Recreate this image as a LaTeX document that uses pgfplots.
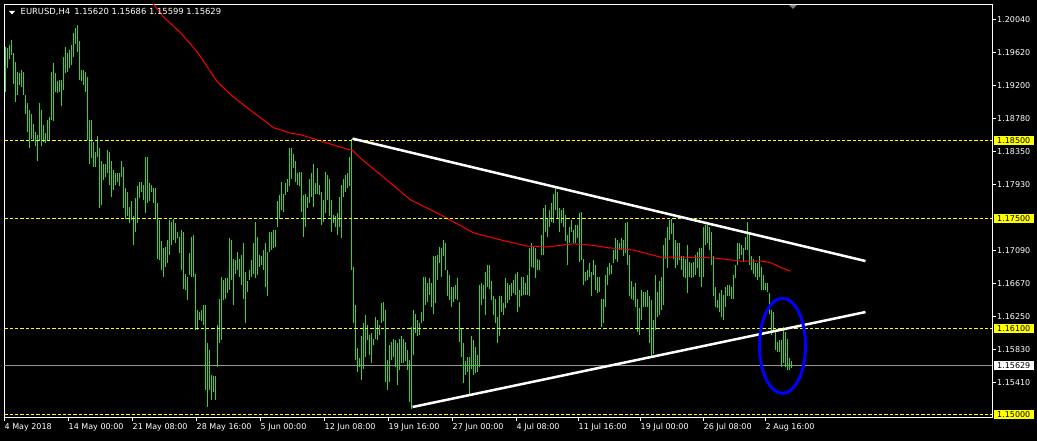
\documentclass[border=0pt]{standalone}
\usepackage{pgfplots}
\pgfplotsset{compat=1.18}
\usepackage{pgfplotstable}
\usepackage{fontspec}
\setmainfont{DejaVu Sans}
\definecolor{barg}{RGB}{40,220,40}
\definecolor{bidgray}{RGB}{150,150,160}
\definecolor{mty}{RGB}{255,255,0}
\newcommand\tf{\fontsize{8}{9}\selectfont}

\pgfplotstableread{
i lo hi
0 1.1912 1.1969
1 1.1942 1.1967
2 1.1954 1.1971
3 1.1959 1.1978
4 1.1922 1.1961
5 1.1899 1.1950
6 1.1908 1.1937
7 1.1920 1.1935
8 1.1918 1.1939
9 1.1908 1.1937
10 1.1884 1.1908
11 1.1861 1.1897
12 1.1840 1.1888
13 1.1852 1.1884
14 1.1850 1.1871
15 1.1842 1.1861
16 1.1823 1.1857
17 1.1850 1.1897
18 1.1842 1.1888
19 1.1848 1.1869
20 1.1846 1.1859
21 1.1850 1.1876
22 1.1850 1.1880
23 1.1876 1.1937
24 1.1874 1.1948
25 1.1912 1.1935
26 1.1910 1.1925
27 1.1912 1.1927
28 1.1893 1.1927
29 1.1914 1.1956
30 1.1935 1.1969
31 1.1937 1.1961
32 1.1942 1.1965
33 1.1946 1.1971
34 1.1956 1.1986
35 1.1973 1.1993
36 1.1963 1.1997
37 1.1927 1.1976
38 1.1925 1.1939
39 1.1920 1.1939
40 1.1912 1.1937
41 1.1850 1.1931
42 1.1820 1.1876
43 1.1827 1.1876
44 1.1816 1.1848
45 1.1816 1.1835
46 1.1829 1.1855
47 1.1763 1.1840
48 1.1767 1.1823
49 1.1799 1.1820
50 1.1803 1.1820
51 1.1808 1.1837
52 1.1793 1.1835
53 1.1778 1.1823
54 1.1787 1.1812
55 1.1793 1.1808
56 1.1797 1.1808
57 1.1791 1.1808
58 1.1803 1.1823
59 1.1763 1.1816
60 1.1750 1.1789
61 1.1753 1.1784
62 1.1744 1.1765
63 1.1748 1.1772
64 1.1716 1.1753
65 1.1733 1.1776
66 1.1744 1.1791
67 1.1776 1.1797
68 1.1784 1.1797
69 1.1774 1.1793
70 1.1757 1.1829
71 1.1770 1.1829
72 1.1772 1.1795
73 1.1784 1.1793
74 1.1770 1.1789
75 1.1750 1.1789
76 1.1699 1.1770
77 1.1697 1.1748
78 1.1685 1.1721
79 1.1676 1.1712
80 1.1689 1.1714
81 1.1693 1.1723
82 1.1704 1.1748
83 1.1716 1.1746
84 1.1723 1.1750
85 1.1719 1.1744
86 1.1725 1.1733
87 1.1706 1.1727
88 1.1685 1.1736
89 1.1661 1.1733
90 1.1659 1.1680
91 1.1646 1.1676
92 1.1678 1.1706
93 1.1676 1.1727
94 1.1676 1.1729
95 1.1608 1.1680
96 1.1608 1.1634
97 1.1621 1.1631
98 1.1619 1.1634
99 1.1614 1.1640
100 1.1532 1.1640
101 1.1510 1.1591
102 1.1532 1.1583
103 1.1519 1.1551
104 1.1529 1.1549
105 1.1519 1.1549
106 1.1561 1.1614
107 1.1591 1.1648
108 1.1595 1.1676
109 1.1646 1.1672
110 1.1648 1.1674
111 1.1655 1.1674
112 1.1659 1.1725
113 1.1672 1.1723
114 1.1640 1.1699
115 1.1680 1.1697
116 1.1685 1.1708
117 1.1676 1.1699
118 1.1665 1.1704
119 1.1648 1.1719
120 1.1617 1.1682
121 1.1657 1.1670
122 1.1672 1.1685
123 1.1676 1.1697
124 1.1680 1.1719
125 1.1674 1.1746
126 1.1678 1.1727
127 1.1689 1.1704
128 1.1691 1.1702
129 1.1685 1.1710
130 1.1663 1.1719
131 1.1651 1.1708
132 1.1708 1.1733
133 1.1710 1.1733
134 1.1712 1.1736
135 1.1714 1.1736
136 1.1740 1.1772
137 1.1750 1.1780
138 1.1761 1.1797
139 1.1759 1.1782
140 1.1780 1.1795
141 1.1784 1.1801
142 1.1791 1.1840
143 1.1801 1.1840
144 1.1814 1.1833
145 1.1797 1.1823
146 1.1793 1.1808
147 1.1791 1.1810
148 1.1759 1.1810
149 1.1727 1.1780
150 1.1740 1.1782
151 1.1763 1.1778
152 1.1770 1.1801
153 1.1778 1.1808
154 1.1765 1.1820
155 1.1782 1.1795
156 1.1782 1.1814
157 1.1780 1.1793
158 1.1742 1.1784
159 1.1746 1.1774
160 1.1757 1.1810
161 1.1774 1.1806
162 1.1753 1.1801
163 1.1733 1.1774
164 1.1744 1.1755
165 1.1740 1.1753
166 1.1729 1.1757
167 1.1740 1.1778
168 1.1725 1.1793
169 1.1778 1.1801
170 1.1784 1.1806
171 1.1789 1.1808
172 1.1791 1.1829
173 1.1685 1.1852
174 1.1617 1.1689
175 1.1570 1.1640
176 1.1555 1.1585
177 1.1561 1.1572
178 1.1544 1.1600
179 1.1559 1.1617
180 1.1574 1.1627
181 1.1595 1.1614
182 1.1576 1.1602
183 1.1566 1.1604
184 1.1589 1.1597
185 1.1597 1.1625
186 1.1595 1.1621
187 1.1602 1.1614
188 1.1617 1.1642
189 1.1619 1.1644
190 1.1542 1.1634
191 1.1532 1.1570
192 1.1542 1.1589
193 1.1570 1.1593
194 1.1574 1.1597
195 1.1561 1.1595
196 1.1538 1.1591
197 1.1557 1.1597
198 1.1566 1.1600
199 1.1566 1.1597
200 1.1568 1.1593
201 1.1557 1.1583
202 1.1517 1.1570
203 1.1508 1.1612
204 1.1576 1.1634
205 1.1604 1.1629
206 1.1600 1.1621
207 1.1602 1.1617
208 1.1617 1.1631
209 1.1619 1.1676
210 1.1640 1.1676
211 1.1644 1.1668
212 1.1653 1.1674
213 1.1638 1.1668
214 1.1629 1.1702
215 1.1642 1.1702
216 1.1672 1.1704
217 1.1693 1.1714
218 1.1676 1.1712
219 1.1702 1.1723
220 1.1685 1.1719
221 1.1651 1.1685
222 1.1646 1.1678
223 1.1638 1.1663
224 1.1644 1.1663
225 1.1648 1.1665
226 1.1646 1.1674
227 1.1593 1.1644
228 1.1574 1.1610
229 1.1540 1.1591
230 1.1551 1.1568
231 1.1555 1.1574
232 1.1527 1.1574
233 1.1559 1.1600
234 1.1551 1.1595
235 1.1553 1.1587
236 1.1555 1.1576
237 1.1561 1.1665
238 1.1640 1.1668
239 1.1648 1.1665
240 1.1627 1.1682
241 1.1663 1.1691
242 1.1661 1.1691
243 1.1646 1.1670
244 1.1627 1.1651
245 1.1617 1.1648
246 1.1591 1.1625
247 1.1600 1.1651
248 1.1631 1.1651
249 1.1627 1.1642
250 1.1636 1.1674
251 1.1642 1.1668
252 1.1646 1.1665
253 1.1651 1.1668
254 1.1655 1.1672
255 1.1653 1.1680
256 1.1631 1.1682
257 1.1638 1.1659
258 1.1651 1.1676
259 1.1653 1.1676
260 1.1653 1.1668
261 1.1653 1.1678
262 1.1651 1.1712
263 1.1689 1.1719
264 1.1687 1.1714
265 1.1674 1.1712
266 1.1685 1.1699
267 1.1685 1.1697
268 1.1704 1.1729
269 1.1704 1.1763
270 1.1733 1.1767
271 1.1727 1.1750
272 1.1740 1.1761
273 1.1746 1.1770
274 1.1744 1.1782
275 1.1761 1.1791
276 1.1750 1.1784
277 1.1733 1.1763
278 1.1744 1.1761
279 1.1740 1.1763
280 1.1721 1.1755
281 1.1691 1.1729
282 1.1719 1.1740
283 1.1733 1.1748
284 1.1719 1.1736
285 1.1719 1.1742
286 1.1725 1.1742
287 1.1695 1.1757
288 1.1697 1.1759
289 1.1665 1.1699
290 1.1670 1.1682
291 1.1672 1.1685
292 1.1676 1.1693
293 1.1651 1.1682
294 1.1678 1.1697
295 1.1659 1.1691
296 1.1655 1.1676
297 1.1657 1.1676
298 1.1612 1.1648
299 1.1617 1.1648
300 1.1638 1.1678
301 1.1665 1.1689
302 1.1678 1.1693
303 1.1680 1.1691
304 1.1693 1.1710
305 1.1699 1.1725
306 1.1695 1.1723
307 1.1710 1.1719
308 1.1710 1.1725
309 1.1702 1.1723
310 1.1706 1.1744
311 1.1691 1.1746
312 1.1651 1.1704
313 1.1648 1.1670
314 1.1646 1.1663
315 1.1638 1.1668
316 1.1606 1.1648
317 1.1602 1.1636
318 1.1621 1.1659
319 1.1638 1.1657
320 1.1638 1.1657
321 1.1638 1.1659
322 1.1591 1.1651
323 1.1574 1.1646
324 1.1578 1.1621
325 1.1608 1.1678
326 1.1625 1.1657
327 1.1627 1.1670
328 1.1634 1.1676
329 1.1640 1.1716
330 1.1699 1.1725
331 1.1687 1.1740
332 1.1723 1.1748
333 1.1731 1.1750
334 1.1699 1.1744
335 1.1687 1.1723
336 1.1691 1.1719
337 1.1697 1.1719
338 1.1685 1.1702
339 1.1676 1.1702
340 1.1674 1.1699
341 1.1655 1.1716
342 1.1676 1.1695
343 1.1674 1.1693
344 1.1676 1.1695
345 1.1678 1.1704
346 1.1687 1.1708
347 1.1676 1.1712
348 1.1663 1.1712
349 1.1676 1.1740
350 1.1716 1.1742
351 1.1719 1.1742
352 1.1710 1.1740
353 1.1691 1.1733
354 1.1651 1.1702
355 1.1638 1.1663
356 1.1636 1.1646
357 1.1631 1.1655
358 1.1625 1.1659
359 1.1621 1.1653
360 1.1638 1.1663
361 1.1651 1.1665
362 1.1651 1.1665
363 1.1648 1.1663
364 1.1648 1.1678
365 1.1674 1.1691
366 1.1691 1.1719
367 1.1699 1.1719
368 1.1704 1.1716
369 1.1695 1.1712
370 1.1710 1.1727
371 1.1710 1.1746
372 1.1691 1.1731
373 1.1685 1.1702
374 1.1680 1.1699
375 1.1676 1.1693
376 1.1672 1.1693
377 1.1676 1.1702
378 1.1659 1.1689
379 1.1659 1.1678
380 1.1659 1.1668
381 1.1657 1.1668
382 1.1629 1.1655
383 1.1602 1.1634
384 1.1608 1.1631
385 1.1583 1.1606
386 1.1580 1.1593
387 1.1580 1.1595
388 1.1561 1.1595
389 1.1566 1.1612
390 1.1561 1.1606
391 1.1557 1.1597
392 1.1557 1.1572
393 1.1560 1.1569
}\bars

\pgfplotstableread{
i p
70 1.2036
79 1.2007
87.5 1.1987
96 1.1962
106 1.1924
114 1.1905
121 1.1891
134 1.1866
142.5 1.1859
147.5 1.1857
157.5 1.1849
169 1.1840
173.5 1.1837
177.5 1.1827
187.5 1.1806
202.5 1.1774
217.5 1.1755
234 1.1732
247.5 1.1723
261 1.1715
271 1.1714
284 1.1718
294 1.1716
301 1.1713
314 1.1710
327.5 1.1701
337.5 1.1701
354 1.1700
367.5 1.1696
377.5 1.1696
382.5 1.1694
387.5 1.1688
392.5 1.1683
}\ma

\begin{document}
\begin{tikzpicture}[x=1pt,y=1pt]
\fill[black] (0,0) rectangle (1037,441);
\useasboundingbox (0,0) rectangle (1037,441);
\begin{axis}[
  at={(4.5pt,23pt)}, anchor=south west,
  scale only axis, width=987.5pt, height=413.5pt,
  xmin=-0.5, xmax=493.25, ymin=1.14960, ymax=1.20229,
  clip mode=individual,
  axis background/.style={fill=black},
  axis line style={white, line width=1pt},
  tick style={white, line width=1pt},
  tick align=outside, major tick length=3.5pt,
  xtick pos=bottom, ytick pos=right,
  xtick={-0.5,31.5,63.5,95.5,127.5,159.5,191.5,223.5,255.5,286.5,317.5,349,380},
  xticklabels={4 May 2018,14 May 00:00,21 May 08:00,28 May 16:00,5 Jun 00:00,12 Jun 08:00,19 Jun 16:00,27 Jun 00:00,4 Jul 08:00,11 Jul 16:00,19 Jul 00:00,26 Jul 08:00,2 Aug 16:00},
  xticklabel style={anchor=north west, inner sep=0pt, font=\tf, text=white, yshift=-1.5pt},
  ytick={1.1541,1.1583,1.1625,1.1667,1.1709,1.1793,1.1835,1.1878,1.1920,1.1962,1.2004},
  yticklabels={1.15410,1.15830,1.16250,1.16670,1.17090,1.17930,1.18350,1.18780,1.19200,1.19620,1.20040},
  yticklabel style={anchor=west, inner sep=0pt, font=\tf, text=white, xshift=1.5pt},
]
\addplot[bidgray, line width=1pt, forget plot] coordinates {(-0.5,1.15629) (493.25,1.15629)};
\addplot[draw=none, mark=none, forget plot,
  error bars/.cd, y dir=plus, y explicit, error mark=none,
  error bar style={draw=barg, line width=1pt}]
  table[x=i, y=lo, y error expr=\thisrow{hi}-\thisrow{lo}] {\bars};
\addplot[red, line width=1pt, forget plot] table[x=i, y=p] {\ma};
\addplot[mty, line width=1pt, dash pattern=on 3.3pt off 2pt, forget plot] coordinates {(-0.5,1.185) (493.25,1.185)};
\addplot[mty, line width=1pt, dash pattern=on 3.3pt off 2pt, forget plot] coordinates {(-0.5,1.175) (493.25,1.175)};
\addplot[mty, line width=1pt, dash pattern=on 3.3pt off 2pt, forget plot] coordinates {(-0.5,1.161) (493.25,1.161)};
\addplot[mty, line width=1pt, dash pattern=on 3.3pt off 2pt, forget plot] coordinates {(-0.5,1.150) (493.25,1.150)};
\addplot[white, line width=2.5pt, forget plot] coordinates {(173.5,1.1852) (430,1.1696)};
\addplot[white, line width=2.5pt, forget plot] coordinates {(203.5,1.1510) (430,1.1631)};
\draw[blue, line width=3pt] (axis cs:388.5,1.1588) ellipse [x radius=11.5, y radius=0.00605];
\node[fill=mty, text=black, anchor=west, inner xsep=3.5pt, inner ysep=1.6pt, font=\tf, xshift=1.5pt] at (axis cs:493.25,1.185) {1.18500};
\node[fill=mty, text=black, anchor=west, inner xsep=3.5pt, inner ysep=1.6pt, font=\tf, xshift=1.5pt] at (axis cs:493.25,1.175) {1.17500};
\node[fill=mty, text=black, anchor=west, inner xsep=3.5pt, inner ysep=1.6pt, font=\tf, xshift=1.5pt] at (axis cs:493.25,1.161) {1.16100};
\node[fill=mty, text=black, anchor=west, inner xsep=3.5pt, inner ysep=1.6pt, font=\tf, xshift=1.5pt] at (axis cs:493.25,1.150) {1.15000};
\node[fill=white, text=black, anchor=west, inner xsep=3.5pt, inner ysep=1.6pt, font=\tf, xshift=1.5pt] at (axis cs:493.25,1.15629) {1.15629};
\end{axis}
\fill[white] (9,430) -- (15,430) -- (12,426.5) -- cycle;
\node[anchor=base west, inner sep=0pt, text=white, font=\fontsize{8.4}{9}\selectfont] at (20.5,426) {EURUSD,H4\hspace{4pt}1.15620 1.15686 1.15599 1.15629};
\fill[gray] (789,436) -- (797,436) -- (793,432) -- cycle;
\end{tikzpicture}
\end{document}
